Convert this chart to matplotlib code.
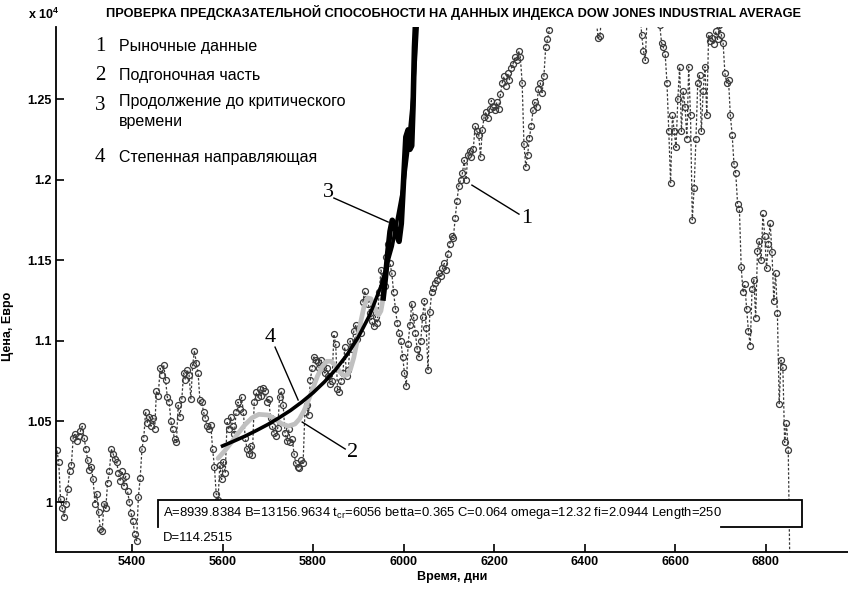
import numpy as np
import matplotlib
matplotlib.use('agg')
import matplotlib.pyplot as plt
from matplotlib.patches import Rectangle

plt.rcParams['font.family'] = ['Liberation Sans', 'DejaVu Sans']

# market data (Dow Jones), one value every 4 days starting at day 5234
START_DAY = 5234
STEP = 4
market = [
    10320, 10250, 10020, 9960, 9910, 9990, 10080, 10190, 10230, 10400,   # 5234
    10420, 10380, 10410, 10440, 10470, 10400, 10330, 10260, 10200, 10220,  # 5274
    10140, 9990, 10050, 9940, 9830, 9820, 9990, 9960, 10120, 10190,   # 5314
    10330, 10300, 10270, 10250, 10180, 10130, 10190, 10100, 10160, 10070,  # 5354
    10000, 9930, 9880, 9800, 9760, 10030, 10150, 10330, 10400, 10560,   # 5394
    10490, 10530, 10470, 10520, 10450, 10690, 10660, 10830, 10790, 10850,  # 5434
    10760, 10650, 10620, 10500, 10450, 10390, 10370, 10600, 10530, 10640,  # 5474
    10800, 10760, 10820, 10790, 10640, 10850, 10940, 10860, 10800, 10630,  # 5514
    10620, 10560, 10520, 10470, 10450, 10480, 10330, 10220, 10050, 10010,  # 5554
    10230, 10140, 10250, 10180, 10500, 10450, 10530, 10470, 10420, 10560,  # 5594
    10620, 10580, 10650, 10560, 10400, 10330, 10300, 10350, 10290, 10620,  # 5634
    10680, 10650, 10700, 10660, 10710, 10690, 10620, 10640, 10520, 10470,  # 5674
    10430, 10410, 10460, 10650, 10690, 10600, 10430, 10380, 10450, 10370,  # 5714
    10390, 10300, 10240, 10220, 10210, 10260, 10240, 10560, 10600, 10540,  # 5754
    10760, 10830, 10900, 10880, 10870, 10830, 10880, 10850, 10800, 10830,  # 5794
    10780, 10730, 10750, 11040, 10980, 10700, 10680, 10750, 10800, 10960,  # 5834
    10780, 10820, 11000, 10950, 11060, 11100, 11010, 11080, 11050, 11240,  # 5874
    11310, 11260, 11230, 11170, 11120, 11090, 11150, 11110, 11300, 11440,  # 5914
    11380, 11340, 11520, 11600, 11480, 11420, 11300, 11200, 11110, 11050,  # 5954
    11000, 10900, 10800, 10720, 10980, 11100, 11230, 11150, 11050, 10950,  # 5994
    10900, 11000, 11150, 11250, 11080, 10820, 11180, 11300, 11330, 11360,  # 6034
    11380, 11420, 11400, 11450, 11480, 11440, 11540, 11600, 11650, 11640,  # 6074
    11760, 11870, 11960, 12000, 12040, 12120, 12000, 12150, 12180, 12140,  # 6114
    12190, 12330, 12300, 12280, 12140, 12310, 12390, 12420, 12380, 12440,  # 6154
    12490, 12450, 12430, 12480, 12440, 12530, 12600, 12640, 12580, 12660,  # 6194
    12620, 12690, 12720, 12760, 12740, 12800, 12760, 12600, 12220, 12080,  # 6234
    12150, 12260, 12330, 12430, 12480, 12450, 12560, 12600, 12540, 12640,  # 6274
    12820, 12870, 12930, 13100, 13250, 13300, 13350, 13300, 13400, 13450,  # 6314
    13400, 13500, 13450, 13550, 13500, 13450, 13400, 13350, 13300, 13250,  # 6354
    13200, 13150, 13200, 13100, 13150, 13100, 13050, 13000, 12980, 12880,  # 6394
    12890, 13050, 13200, 13300, 13350, 13400, 13350, 13300, 13250, 13200,  # 6434
    13150, 13200, 13250, 13300, 13250, 13200, 13150, 13100, 13150, 13100,  # 6474
    13050, 13000, 13080, 12900, 12800, 12740, 13000, 13150, 13200, 13150,  # 6514
    13100, 13050, 13000, 12960, 12850, 12820, 12780, 12600, 12300, 11980,  # 6554
    12400, 12300, 12200, 12500, 12700, 12300, 12550, 12450, 12250, 12700,  # 6594
    12400, 11750, 11950, 12250, 12600, 12650, 12300, 12550, 12700, 12400,  # 6634
    12900, 12860, 12880, 12840, 12920, 12870, 12960, 12900, 12850, 12660,  # 6674
    12600, 12620, 12400, 12280, 12100, 12040, 11850, 11820, 11460, 11300,  # 6714
    11350, 11200, 11060, 10970, 11320, 11380, 11140, 11560, 11620, 11500,  # 6754
    11790, 11650, 11450, 11600, 11730, 11550, 11250, 11420, 11170, 10610,  # 6794
    10880, 10840, 10370, 10490, 10320, 9500,                              # 6834
]

# fitted log-periodic part (2)
fit_days = [5590, 5605, 5620, 5635, 5650, 5665, 5680, 5700, 5715, 5730,
            5745, 5760, 5770, 5780, 5790, 5800, 5810, 5820, 5830, 5840,
            5850, 5860, 5868, 5875, 5883, 5890, 5898, 5905, 5912, 5920,
            5928, 5935, 5940, 5945, 5950, 5955, 5960, 5965]
fit_vals = [10271, 10318, 10372, 10428, 10481, 10522, 10544, 10540, 10517, 10487,
            10471, 10484, 10515, 10566, 10633, 10708, 10783, 10839, 10873, 10873,
            10844, 10805, 10785, 10788, 10827, 10896, 11005, 11113, 11205, 11266,
            11261, 11212, 11176, 11161, 11186, 11266, 11394, 11546]

# continuation to critical time (3)
cont_days = [5955, 5960, 5965, 5970, 5975, 5980, 5985, 5990, 5995, 6000,
             6005, 6010, 6012, 6014, 6018, 6021, 6024, 6027]
cont_vals = [11266, 11394, 11546, 11679, 11748, 11726, 11654, 11617, 11728, 11994,
             12265, 12309, 12246, 12188, 12210, 12459, 12821, 13016]

# power-law guide (4)
pow_days = [5600, 5625, 5650, 5675, 5700, 5725, 5750, 5775, 5800, 5825,
            5850, 5875, 5900, 5925, 5950, 5975, 6000, 6010, 6020, 6026, 6030, 6033]
pow_vals = [10348, 10378, 10409, 10444, 10481, 10523, 10568, 10620, 10678, 10745,
            10822, 10913, 11023, 11159, 11338, 11587, 11966, 12196, 12496, 12743, 12948, 13130]

x_ticks = [5400, 5600, 5800, 6000, 6200, 6400, 6600, 6800]
y_ticks = [1.0, 1.05, 1.1, 1.15, 1.2, 1.25]
y_tick_labels = ['1', '1.05', '1.1', '1.15', '1.2', '1.25']

legend_items = [('1', 'Рыночные данные'),
                ('2', 'Подгоночная часть'),
                ('3', 'Продолжение до критического\nвремени'),
                ('4', 'Степенная направляющая')]

params_line1 = (r'A=8939.8384 B=13156.9634 $\mathregular{t_{cr}}$=6056 betta=0.365 '
                r'C=0.064 omega=12.32 fi=2.0944 Length=250')
params_line2 = 'D=114.2515'

days = START_DAY + STEP * np.arange(len(market))
scale = 1e4

fig = plt.figure(figsize=(8.48, 5.89), dpi=100)
ax = fig.add_axes([56 / 848, 1 - 552 / 589, 792 / 848, 525 / 589])

ax.plot(days, np.array(market) / scale, ls=(0, (2, 1.5)), lw=0.9, color='#3a3a3a',
        marker='o', ms=4.3, mfc='none', mec='#3a3a3a', mew=0.9, zorder=1)
ax.plot(fit_days, np.array(fit_vals) / scale, color='#c0c0c0', lw=3.4,
        solid_capstyle='round', zorder=2)
ax.plot(pow_days, np.array(pow_vals) / scale, color='black', lw=2.6, zorder=3)
ax.plot(cont_days, np.array(cont_vals) / scale, color='black', lw=4, zorder=4)

ax.set_xlim(5232, 6982)
ax.set_ylim(0.969, 1.2947)
ax.set_xticks(x_ticks)
ax.set_yticks(y_ticks)
ax.set_yticklabels(y_tick_labels)
ax.tick_params(direction='in', length=6, width=1.2, labelsize=9, pad=3)
for lab in ax.get_xticklabels() + ax.get_yticklabels():
    lab.set_fontweight('bold')
for s in ['top', 'right']:
    ax.spines[s].set_visible(False)
for s in ['left', 'bottom']:
    ax.spines[s].set_linewidth(1.3)

ax.set_xlabel('Время, дни', fontsize=9, fontweight='bold', labelpad=2)
ax.set_ylabel('Цена, Евро', fontsize=9, fontweight='bold')
ax.yaxis.set_label_coords(-0.053, 0.43)

fig.text(28 / 848, 1 - 14 / 589, r'x 10$^{\mathregular{4}}$', fontsize=9,
         fontweight='bold', va='center')
fig.text(106 / 848, 1 - 12 / 589,
         'ПРОВЕРКА ПРЕДСКАЗАТЕЛЬНОЙ СПОСОБНОСТИ НА ДАННЫХ ИНДЕКСА DOW JONES INDUSTRIAL AVERAGE',
         fontsize=9.2, fontweight='bold', va='center')

# legend block
rows_y = [0.962, 0.907, 0.851, 0.752]
for (num, label), yy in zip(legend_items, rows_y):
    ax.text(0.0556, yy, num, transform=ax.transAxes, family='Liberation Serif',
            fontsize=15, ha='center', va='center')
    if '\n' in label:
        ax.text(0.0795, yy + 0.022, label, transform=ax.transAxes, fontsize=11.5,
                va='top', linespacing=1.45)
    else:
        ax.text(0.0795, yy, label, transform=ax.transAxes, fontsize=11.5,
                va='center')

# numbered leader lines
notes = [('3', (5833, 1.1923), (5846, 1.1886), (5966, 1.1737)),
         ('1', (6273, 1.1762), (6255, 1.1786), (6151, 1.1966)),
         ('4', (5705, 1.1023), (5716, 1.0961), (5767, 1.0633)),
         ('2', (5888, 1.0310), (5871, 1.0329), (5776, 1.0496))]
for num, txt_xy, p0, p1 in notes:
    ax.text(*txt_xy, num, family='Liberation Serif', fontsize=16,
            ha='center', va='center', zorder=6)
    ax.plot([p0[0], p1[0]], [p0[1], p1[1]], color='black', lw=1, zorder=6)

# parameter box (bottom edge partly hidden by the second line, like MATLAB)
bx0, bx1, by0, by1 = 0.1288, 0.942, 0.0476, 0.099
ax.add_patch(Rectangle((bx0, by0), bx1 - bx0, by1 - by0, transform=ax.transAxes,
                       facecolor='white', edgecolor='none', zorder=7))
ax.plot([0.8396, bx1, bx1, bx0, bx0], [by0, by0, by1, by1, by0],
        transform=ax.transAxes, color='black', lw=1.3, zorder=7,
        solid_joinstyle='miter')
ax.text(0.135, 0.0743, params_line1, transform=ax.transAxes, fontsize=9.4,
        va='center', zorder=8)
ax.text(0.135, 0.0267, params_line2, transform=ax.transAxes, fontsize=9.4,
        va='center', zorder=8)

fig.savefig('out.png', dpi=100)
